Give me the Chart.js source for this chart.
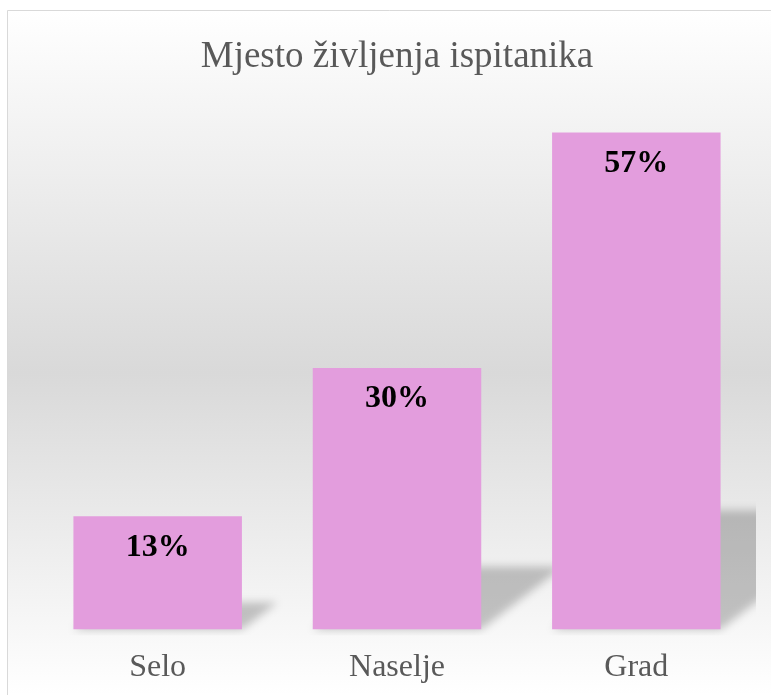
<!DOCTYPE html>
<html>
<head>
<meta charset="utf-8">
<script src="https://cdn.jsdelivr.net/npm/chart.js@4"></script>
<style>
  html, body { margin: 0; padding: 0; background: #ffffff; }
  #wrap { position: relative; width: 771px; height: 695px; }
</style>
</head>
<body>
<div id="wrap"><canvas id="chart" width="771" height="695"></canvas></div>
<script>
// data
const categories = ['Selo', 'Naselje', 'Grad'];
const shares = [13, 30, 57];
const chartTitle = 'Mjesto življenja ispitanika';

const serif = "'Liberation Serif', 'Times New Roman', serif";

// panel background: border + vertical grey gradient
const panelBg = {
  id: 'panelBg',
  beforeDraw(chart) {
    const ctx = chart.ctx;
    const w = chart.width, h = chart.height;
    ctx.save();
    const g = ctx.createLinearGradient(0, 10, 0, h);
    g.addColorStop(0, '#ffffff');
    g.addColorStop(0.53, '#d9d9d9');
    g.addColorStop(1, '#ffffff');
    ctx.fillStyle = g;
    ctx.fillRect(7, 10, w - 7, h - 10);
    ctx.strokeStyle = '#d9d9d9';
    ctx.lineWidth = 1;
    ctx.beginPath();
    ctx.moveTo(7.5, h);
    ctx.lineTo(7.5, 10.5);
    ctx.lineTo(w, 10.5);
    ctx.stroke();
    ctx.restore();
  }
};

// perspective shadow behind every bar
const barShadow = {
  id: 'barShadow',
  beforeDatasetsDraw(chart) {
    const ctx = chart.ctx;
    const area = chart.chartArea;
    ctx.save();
    ctx.beginPath();
    ctx.rect(area.left, area.top, area.right - area.left, area.bottom - area.top + 6);
    ctx.clip();
    ctx.filter = 'blur(4px)';
    ctx.fillStyle = 'rgba(0,0,0,0.22)';
    chart.getDatasetMeta(0).data.forEach(bar => {
      const p = bar.getProps(['x', 'y', 'base', 'width'], true);
      const left = p.x - p.width / 2, right = p.x + p.width / 2;
      const sh = (p.base - p.y) * 0.24;
      const dx = sh * 1.3;
      ctx.beginPath();
      ctx.moveTo(left, p.base);
      ctx.lineTo(right, p.base);
      ctx.lineTo(right + dx, p.base - sh);
      ctx.lineTo(left + dx, p.base - sh);
      ctx.closePath();
      ctx.fill();
    });
    ctx.restore();
  }
};

// percentage labels inside top of bars
const barLabels = {
  id: 'barLabels',
  afterDatasetsDraw(chart) {
    const ctx = chart.ctx;
    ctx.save();
    ctx.font = 'bold 32px ' + serif;
    ctx.fillStyle = '#000000';
    ctx.textAlign = 'center';
    ctx.textBaseline = 'middle';
    chart.getDatasetMeta(0).data.forEach((bar, i) => {
      ctx.fillText(shares[i] + '%', bar.x, bar.y + 31);
    });
    ctx.restore();
  }
};

new Chart(document.getElementById('chart'), {
  type: 'bar',
  data: {
    labels: categories,
    datasets: [{
      data: shares,
      backgroundColor: '#e39ddd',
      borderWidth: 0,
      categoryPercentage: 0.704,
      barPercentage: 1.0
    }]
  },
  options: {
    responsive: false,
    animation: false,
    layout: { padding: { left: 38, right: 15, top: 0, bottom: -3 } },
    plugins: {
      legend: { display: false },
      tooltip: { enabled: false },
      title: {
        display: true,
        text: chartTitle,
        color: '#595959',
        font: { family: serif, size: 37, weight: 'normal' },
        padding: { top: 35, bottom: 27 }
      }
    },
    scales: {
      x: {
        grid: { display: false },
        border: { display: false },
        ticks: { color: '#595959', font: { family: serif, size: 32 }, padding: 11 }
      },
      y: {
        display: false,
        min: 0,
        max: 60
      }
    }
  },
  plugins: [panelBg, barShadow, barLabels]
});
</script>
</body>
</html>
